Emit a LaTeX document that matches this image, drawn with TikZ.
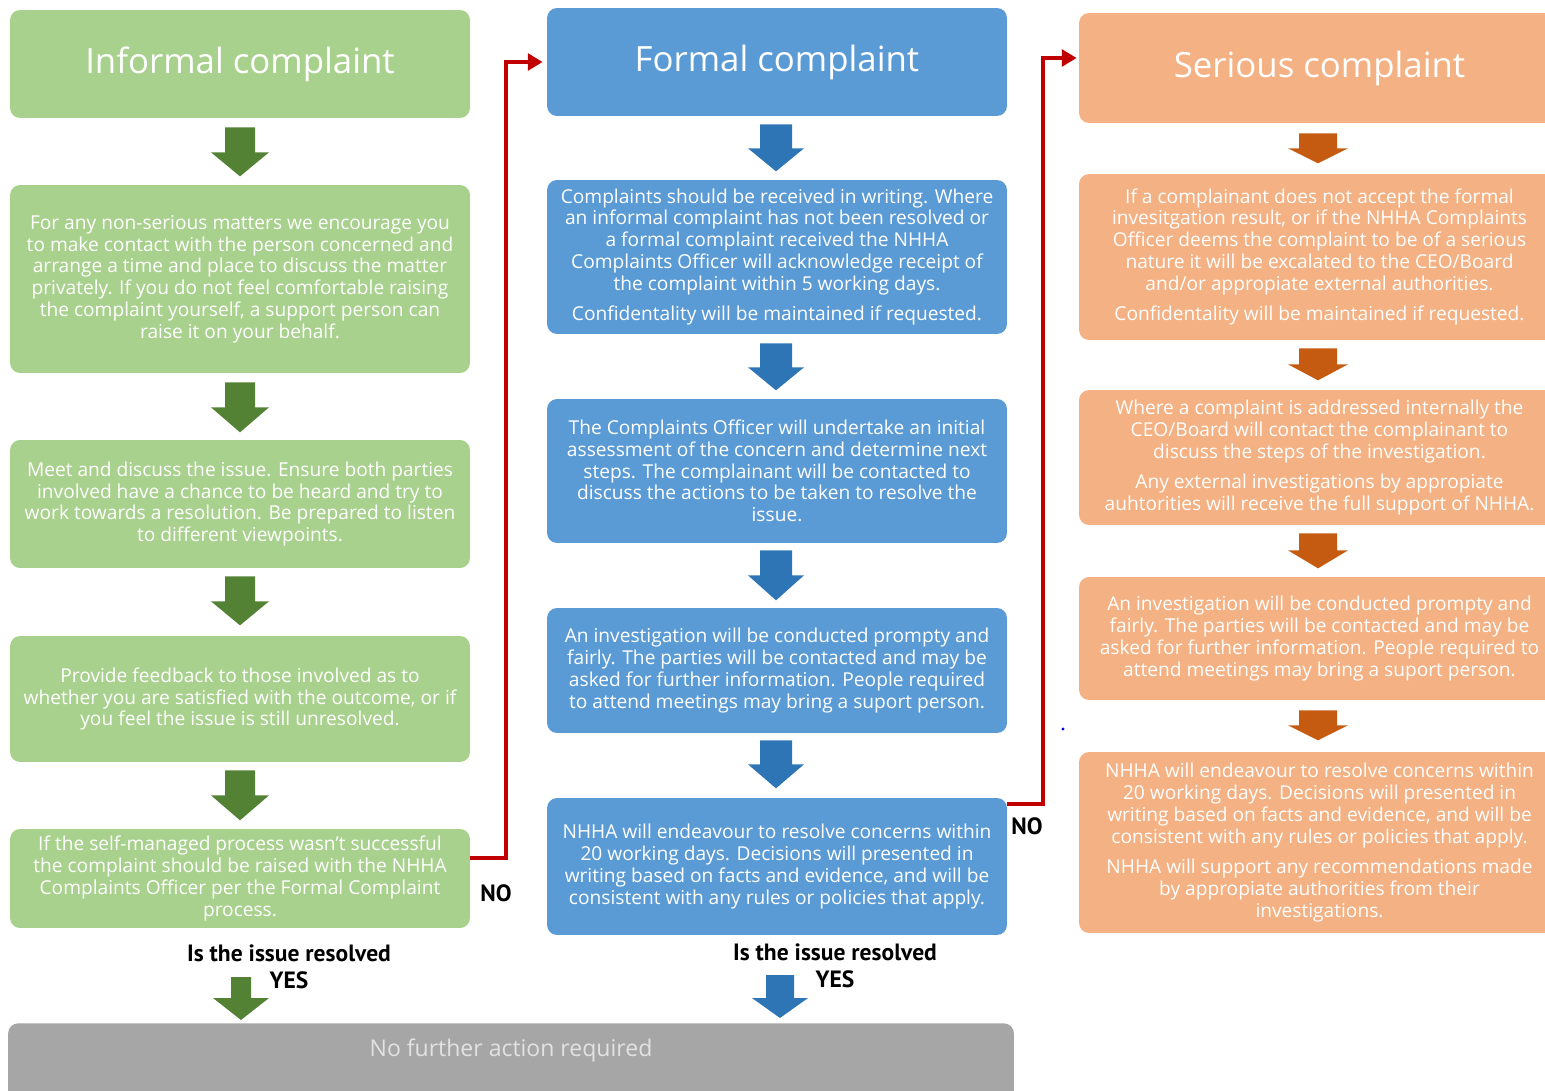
\documentclass[tikz,border=0pt]{standalone}
\usepackage{fontspec}
\setmainfont{Open Sans}
\newfontfamily\lblfont{PT Sans}
\usetikzlibrary{arrows.meta,calc}
\definecolor{gbox}{HTML}{A9D18E}
\definecolor{garr}{HTML}{548235}
\definecolor{bbox}{HTML}{5B9BD5}
\definecolor{barr}{HTML}{2E75B6}
\definecolor{obox}{HTML}{F4B183}
\definecolor{oarr}{HTML}{C55A11}
\definecolor{grbox}{HTML}{A6A6A6}
\definecolor{grtxt}{HTML}{E2E2E2}
\definecolor{redl}{HTML}{C00000}
\begin{document}
\begin{tikzpicture}[x=0.02cm,y=-0.02cm,
  card/.style={rounded corners=0.2cm, minimum width=9.2cm, align=center, text=white, inner sep=0pt, font=\fontsize{10.9}{12.4}\selectfont},
  title/.style={font=\fontsize{19.8}{24}\selectfont},
  gcard/.style={card, fill=gbox},
  bcard/.style={card, fill=bbox},
  ocard/.style={card, fill=obox, minimum width=9.62cm},
  lbl/.style={font=\lblfont\bfseries\fontsize{13.4}{15}\selectfont, text=black, inner sep=0pt},
  noarrow/.style={draw=redl, line width=2.3pt, -{Triangle[length=8.5pt,width=9.5pt]}},
  pics/dnarrow/.style n args={4}{code={\fill (-#1,0) -- (#1,0) -- (#1,#3) -- (#2,#3) -- (0,#4) -- (-#2,#3) -- (-#1,#3) -- cycle;}}
]
\useasboundingbox (0,0) rectangle (1545,1091);
\clip (0,0) rectangle (1545,1091);

% ---- Informal column
\node[gcard, title, minimum height=2.16cm] (g0) at (240,64) {Informal complaint};
\node[gcard, minimum height=3.76cm] (g1) at (240,279) {For any non-serious matters we encourage you\\to make contact with the person concerned and\\arrange a time and place to discuss the matter\\privately. If you do not feel comfortable raising\\the complaint yourself, a support person can\\raise it on your behalf.};
\node[gcard, minimum height=2.56cm] (g2) at (240,504) {Meet and discuss the issue. Ensure both parties\\involved have a chance to be heard and try to\\work towards a resolution. Be prepared to listen\\to different viewpoints.};
\node[gcard, minimum height=2.52cm] (g3) at (240,699) {Provide feedback to those involved as to\\whether you are satisfied with the outcome, or if\\you feel the issue is still unresolved.};
\node[gcard, minimum height=1.98cm] (g4) at (240,878.5) {If the self-managed process wasn't successful\\the complaint should be raised with the NHHA\\Complaints Officer per the Formal Complaint\\process.};

% ---- Formal column
\node[bcard, title, minimum height=2.16cm] (b0) at (777,62) {Formal complaint};
\node[bcard, minimum height=3.08cm] (b1) at (777,257) {Complaints should be received in writing. Where\\an informal complaint has not been resolved or\\a formal complaint received the NHHA\\Complaints Officer will acknowledge receipt of\\the complaint within 5 working days.\\[5pt]Confidentality will be maintained if requested.};
\node[bcard, minimum height=2.88cm] (b2) at (777,471) {The Complaints Officer will undertake an initial\\assessment of the concern and determine next\\steps. The complainant will be contacted to\\discuss the actions to be taken to resolve the\\issue.};
\node[bcard, minimum height=2.5cm] (b3) at (777,670.5) {An investigation will be conducted prompty and\\fairly. The parties will be contacted and may be\\asked for further information. People required\\to attend meetings may bring a suport person.};
\node[bcard, minimum height=2.74cm] (b4) at (777,866.5) {NHHA will endeavour to resolve concerns within\\20 working days. Decisions will presented in\\writing based on facts and evidence, and will be\\consistent with any rules or policies that apply.};

% ---- Serious column
\node[ocard, title, minimum height=2.2cm] (o0) at (1319.5,68) {Serious complaint};
\node[ocard, minimum height=3.32cm] (o1) at (1319.5,257) {If a complainant does not accept the formal\\invesitgation result, or if the NHHA Complaints\\Officer deems the complaint to be of a serious\\nature it will be excalated to the CEO/Board\\and/or appropiate external authorities.\\[5pt]Confidentality will be maintained if requested.};
\node[ocard, minimum height=2.7cm] (o2) at (1319.5,457.5) {Where a complaint is addressed internally the\\CEO/Board will contact the complainant to\\discuss the steps of the investigation.\\[5pt]Any external investigations by appropiate\\auhtorities will receive the full support of NHHA.};
\node[ocard, minimum height=2.46cm] (o3) at (1319.5,638.5) {An investigation will be conducted prompty and\\fairly. The parties will be contacted and may be\\asked for further information. People required to\\attend meetings may bring a suport person.};
\node[ocard, minimum height=3.62cm] (o4) at (1319.5,842.5) {NHHA will endeavour to resolve concerns within\\20 working days. Decisions will presented in\\writing based on facts and evidence, and will be\\consistent with any rules or policies that apply.\\[5pt]NHHA will support any recommendations made\\by appropiate authorities from their\\investigations.};

% ---- bottom box
\node[rounded corners=0.2cm, fill=grbox, text=grtxt, minimum width=20.12cm, inner xsep=0pt, inner ysep=0pt, text height=19pt, text depth=27pt, anchor=north, font=\fontsize{13.1}{15}\selectfont] (nf) at (511,1023) {No further action required};

% ---- block arrows
\pic[fill=garr] at ($(g0.south)+(0,9)$) {dnarrow={15}{29}{25}{49}};
\pic[fill=garr] at ($(g1.south)+(0,9)$) {dnarrow={15}{29}{25}{50}};
\pic[fill=garr] at ($(g2.south)+(0,8)$) {dnarrow={15}{29}{25}{49}};
\pic[fill=garr] at ($(g3.south)+(0,8)$) {dnarrow={15}{29}{25}{50}};
\pic[fill=garr] at ($(nf.north)+(-270,-46)$) {dnarrow={10}{28}{21}{43}};

\pic[fill=barr] at ($(b0.south)+(-1,8)$) {dnarrow={16}{28}{24}{47}};
\pic[fill=barr] at ($(b1.south)+(-1,9)$) {dnarrow={16}{28}{24}{47}};
\pic[fill=barr] at ($(b2.south)+(-1,7)$) {dnarrow={16}{28}{25}{50}};
\pic[fill=barr] at ($(b3.south)+(-1,7)$) {dnarrow={16}{28}{24}{48}};
\pic[fill=barr] at ($(nf.north)+(269,-48)$) {dnarrow={14}{28}{23}{43}};

\pic[fill=oarr] at ($(o0.south)+(-1.5,10)$) {dnarrow={19}{30}{15}{30}};
\pic[fill=oarr] at ($(o1.south)+(-1.5,8)$) {dnarrow={19}{30}{16}{32}};
\pic[fill=oarr] at ($(o2.south)+(-1.5,8)$) {dnarrow={19}{30}{17}{35}};
\pic[fill=oarr] at ($(o3.south)+(-1.5,10)$) {dnarrow={19}{30}{15}{30}};

% ---- red escalation connectors
\coordinate (r1) at (506,0);
\coordinate (r2) at (1043,0);
\coordinate (t1) at ($(b0.west)+(-4,0)$);
\coordinate (t2) at ($(o0.west)+(-2,-10)$);
\draw[noarrow] (g4.east |- 0,858) -| (r1 |- t1) -- (t1);
\draw[noarrow] (b4.east |- 0,804) -| (r2 |- t2) -- (t2);

% ---- labels
\node[lbl] (no1) at (496,893) {NO};
\node[lbl] (no2) at (1027,826) {NO};
\node[lbl] (q1) at (289,953) {Is the issue resolved};
\node[lbl] (y1) at (289,980) {YES};
\node[lbl] (q2) at (835,952) {Is the issue resolved};
\node[lbl] (y2) at (835,979) {YES};

\fill[blue] (1063,729) circle (1.6);
\end{tikzpicture}
\end{document}
